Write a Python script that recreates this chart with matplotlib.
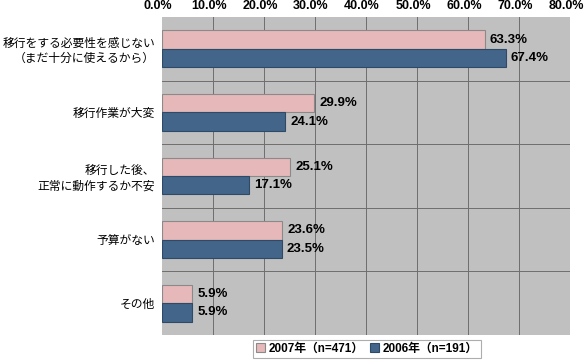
import matplotlib
matplotlib.use('Agg')
import matplotlib.pyplot as plt
from matplotlib.transforms import ScaledTranslation
import numpy as np

plt.rcParams['font.family'] = ['Liberation Sans', 'Noto Sans CJK JP']

categories = ['移行をする必要性を感じない\n（まだ十分に使えるから）',
              '移行作業が大変',
              '移行した後、\n正常に動作するか不安',
              '予算がない',
              'その他']
v2007 = [63.3, 29.9, 25.1, 23.6, 5.9]
v2006 = [67.4, 24.1, 17.1, 23.5, 5.9]
series_labels = ['2007年（n=471）', '2006年（n=191）']
ticks = [0, 10, 20, 30, 40, 50, 60, 70, 80]

pink = '#e6b8b9'
blue = '#426589'

fig = plt.figure(figsize=(5.85, 3.6), dpi=100)
ax = fig.add_axes([162 / 585, 1 - 335 / 360, 408 / 585, 318 / 360])
ax.set_facecolor('#c0c0c0')

y = np.arange(len(categories))
h = 0.29
b1 = ax.barh(y - h / 2, v2007, height=h, color=pink, edgecolor='#8a8a8a', linewidth=0.8,
             label=series_labels[0], zorder=3)
b2 = ax.barh(y + h / 2, v2006, height=h, color=blue, edgecolor='#2e4a66', linewidth=0.8,
             label=series_labels[1], zorder=3)

for bars, vals in ((b1, v2007), (b2, v2006)):
    for bar, v in zip(bars, vals):
        ax.text(v + 1.0, bar.get_y() + bar.get_height() / 2, '%.1f%%' % v,
                va='center', ha='left', fontsize=9.5, fontweight='bold', zorder=4)

ax.set_xlim(0, 80)
ax.set_ylim(len(categories) - 0.5, -0.5)

# grid
for t in ticks[1:-1]:
    ax.axvline(t, color='#6e6e6e', linewidth=0.7, zorder=1)
for b in np.arange(0.5, len(categories) - 0.5, 1):
    ax.axhline(b, color='#6e6e6e', linewidth=0.7, zorder=1)

# top tick labels, nudged a little left like the original
ax.set_xticks(ticks)
ax.set_xticklabels([])
shift = ScaledTranslation(-4 / 100, 5 / 100, fig.dpi_scale_trans)
for t in ticks:
    ax.text(t, 1, '%.1f%%' % t, transform=ax.get_xaxis_transform() + shift,
            ha='center', va='bottom', fontsize=9, fontweight='bold', clip_on=False)

ax.set_yticks(y)
ax.set_yticklabels(categories, fontsize=8.5, ha='right', linespacing=1.3)
ax.tick_params(axis='x', length=0)
ax.tick_params(axis='y', length=0, pad=5)
for s in ax.spines.values():
    s.set_visible(False)

leg = fig.legend(handles=[b1, b2], loc='center', bbox_to_anchor=(367 / 585, 1 - 349 / 360),
                 ncol=2, frameon=True, fancybox=False, edgecolor='#999999',
                 prop={'size': 8.5, 'weight': 'bold'}, handlelength=0.8, handleheight=0.8,
                 handletextpad=0.3, columnspacing=0.5, borderpad=0.25)
leg.get_frame().set_linewidth(0.8)

fig.savefig('out.png', dpi=100)
